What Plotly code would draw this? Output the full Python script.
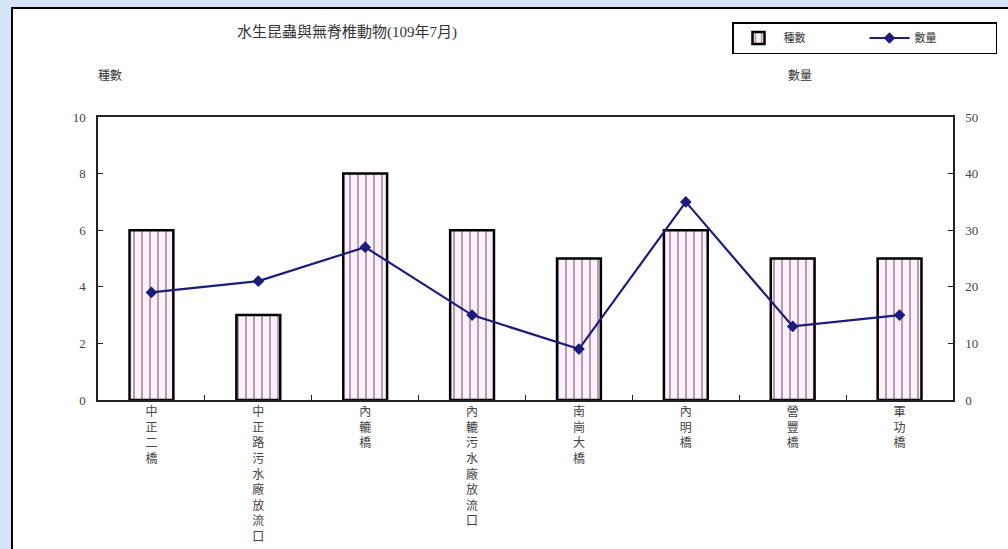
import plotly.graph_objects as go

categories = ["中正二橋", "中正路污水廠放流口", "內轆橋", "內轆污水廠放流口", "南崗大橋", "內明橋", "營豐橋", "軍功橋"]
species = [6, 3, 8, 6, 5, 6, 5, 5]
counts = [19, 21, 27, 15, 9, 35, 13, 15]
left_ticks = [0, 2, 4, 6, 8, 10]
right_ticks = [0, 10, 20, 30, 40, 50]
title_text = "水生昆蟲與無脊椎動物(109年7月)"

W, H = 1008, 549
L, R, T, B = 98, 953, 117, 400


def px(x):
    return (x - L) / (R - L)


def py(y):
    return (B - y) / (B - T)


vert_labels = ["<br>".join(list(c)) for c in categories]
FONT = "Liberation Serif, Noto Sans CJK TC, serif"

fig = go.Figure()
fig.add_trace(go.Bar(
    x=categories, y=species, name="種數", yaxis="y",
    width=0.41,
    marker=dict(color="#fcf0f8", line=dict(color="black", width=2.5),
                pattern=dict(shape="|", fgcolor="#4a2050", bgcolor="#fcf0f8", size=8, solidity=0.2)),
))
fig.add_trace(go.Scatter(
    x=categories, y=counts, name="數量", yaxis="y2", mode="lines+markers",
    line=dict(color="#1c1c7c", width=2.2),
    marker=dict(symbol="diamond", size=9, color="#1c1c7c"),
))

fig.update_layout(
    width=W, height=H,
    margin=dict(l=L, r=W - R, t=T, b=H - B, autoexpand=False),
    paper_bgcolor="#d4e4f6", plot_bgcolor="white",
    font=dict(family=FONT, color="#333333", size=13),
    showlegend=True,
    legend=dict(orientation="h", xref="container", yref="container",
                x=732 / W, y=1 - 22 / H, xanchor="left", yanchor="top",
                bordercolor="black", borderwidth=1.5, bgcolor="white",
                font=dict(size=11, color="#333"), entrywidth=76, itemwidth=40),
    xaxis=dict(type="category", tickvals=categories, ticktext=vert_labels, automargin=False,
               showline=True, linecolor="#222", linewidth=1.5, mirror=True,
               ticks="inside", ticklen=5, tickson="boundaries", tickcolor="#222",
               tickfont=dict(size=12, color="#444"), showgrid=False, tickangle=0),
    yaxis=dict(range=[0, 10], tickvals=left_ticks, showgrid=False, zeroline=False, automargin=False,
               showline=True, linecolor="#222", linewidth=1.5,
               ticks="inside", ticklen=5, tickcolor="#222",
               tickfont=dict(size=13, color="#444"), ticklabelstandoff=8),
    yaxis2=dict(range=[0, 50], tickvals=right_ticks, overlaying="y", side="right", automargin=False,
                showgrid=False, zeroline=False, showline=True, linecolor="#222", linewidth=1.5,
                ticks="inside", ticklen=5, tickcolor="#222",
                tickfont=dict(size=13, color="#444"), ticklabelstandoff=8),
    shapes=[dict(type="rect", xref="paper", yref="paper", layer="below",
                 x0=px(12), x1=px(1014), y0=py(556), y1=py(8),
                 fillcolor="white", line=dict(color="black", width=2))],
    annotations=[
        dict(text=title_text, x=px(347), y=py(33), xref="paper", yref="paper",
             xanchor="center", yanchor="middle",
             showarrow=False, font=dict(size=15, color="#333")),
        dict(text="種數", x=px(110), y=py(76), xref="paper", yref="paper",
             xanchor="center", yanchor="middle",
             showarrow=False, font=dict(size=12, color="#333")),
        dict(text="數量", x=px(800), y=py(76), xref="paper", yref="paper",
             xanchor="center", yanchor="middle",
             showarrow=False, font=dict(size=12, color="#333")),
    ],
)

fig.write_html("out.html", config={"displayModeBar": False},
               post_script="document.body.style.margin='0';document.body.style.overflow='hidden';")
